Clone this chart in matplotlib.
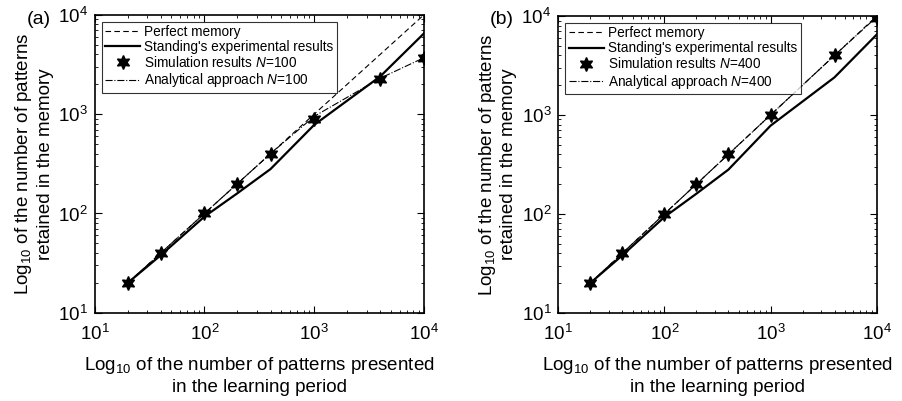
import numpy as np
import matplotlib.pyplot as plt

plt.rcParams['font.family'] = ['Liberation Sans', 'DejaVu Sans']
plt.rcParams['mathtext.fontset'] = 'custom'
plt.rcParams['mathtext.rm'] = 'Liberation Sans'
plt.rcParams['mathtext.it'] = 'Liberation Sans:italic'

# patterns presented
presented = [20, 40, 100, 200, 400, 1000, 4000, 10000]
# Standing's experimental results (same in both panels)
standing = [20, 38, 93, 160, 280, 780, 2400, 6500]

# panel (a): N = 100
sim_a = [20, 40, 100, 200, 400, 900, 2250, 3700]
ana_a = [20, 40, 100, 200, 400, 950, 2300, 3700]
# panel (b): N = 400
sim_b = [20, 40, 100, 200, 400, 1000, 4000, 9600]
ana_b = [20, 40, 100, 200, 400, 1000, 4000, 9800]

panels = [("(a)", 100, sim_a, ana_a), ("(b)", 400, sim_b, ana_b)]
star = (6, 1, 0)

fig = plt.figure(figsize=(9.02, 4.01), dpi=100)
rects = [[0.105, 0.22, 0.365, 0.743], [0.619, 0.22, 0.353, 0.74]]
label_x = [27 / 902, 490 / 902]

for rect, lx, (label, n, sim, ana) in zip(rects, label_x, panels):
    ax = fig.add_axes(rect)
    ax.plot(presented, presented, 'k--', lw=0.8, dashes=(5, 3), label='Perfect memory')
    ax.plot(presented, standing, 'k-', lw=1.6, label="Standing's experimental results")
    ax.plot(presented, sim, linestyle='none', marker=star, color='k', ms=10,
            label='Simulation results $N$=%d' % n)
    ax.plot(presented, ana, 'k-.', lw=0.8, label='Analytical approach $N$=%d' % n)
    ax.set_xscale('log')
    ax.set_yscale('log')
    ax.set_xlim(10, 1e4)
    ax.set_ylim(10, 1e4)
    ax.tick_params(which='both', direction='in', top=True, right=True, labelsize=13.5)
    ax.tick_params(axis='x', which='major', pad=8)
    ax.tick_params(axis='y', which='major', pad=5)
    ax.tick_params(which='major', length=5)
    ax.tick_params(which='minor', length=2.5)
    for s in ax.spines.values():
        s.set_linewidth(1.2)
    ax.set_xlabel('Log$_{10}$ of the number of patterns presented\nin the learning period',
                  fontsize=13.5, labelpad=8)
    ax.set_ylabel('Log$_{10}$ of the number of patterns\nretained in the memory',
                  fontsize=13.5, labelpad=3)
    leg = ax.legend(loc='upper left', fontsize=9.8, frameon=True, fancybox=False,
                    edgecolor='k', handlelength=2.6, handletextpad=0.3,
                    borderpad=0.25, labelspacing=0.08, borderaxespad=0.5)
    leg.get_frame().set_linewidth(0.8)
    fig.text(lx, 0.952, label, fontsize=14, va='center', ha='left')

fig.savefig('out.png', dpi=100)
